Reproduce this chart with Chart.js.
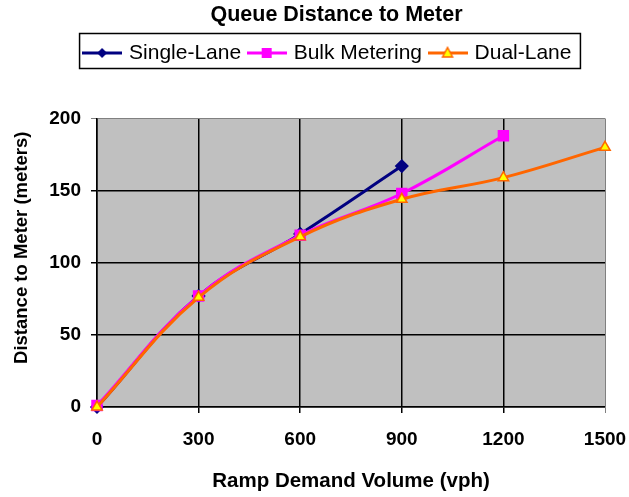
<!DOCTYPE html>
<html>
<head>
<meta charset="utf-8">
<script src="https://cdn.jsdelivr.net/npm/chart.js@4/dist/chart.umd.min.js"></script>
<style>
  html, body { margin: 0; padding: 0; background: #fff; }
  canvas { display: block; }
</style>
</head>
<body>
<canvas id="chart" width="629" height="497"></canvas>
<script>
const volumes = [0, 300, 600, 900, 1200, 1500];
const singleLane = [0, 77, 120, 167];
const bulkMetering = [1, 77, 119, 148, 188];
const dualLane = [0, 76, 118, 144, 159, 180];
const seriesNames = ["Single-Lane", "Bulk Metering", "Dual-Lane"];

const toPoints = (vals) => vals.map((v, i) => ({ x: volumes[i], y: v }));

const LEGEND_DX = 22;
const LEGEND_EXTRA = 45;
const TITLE_DX = 30;
const YTITLE_DY = -15;

// legend symbol: line with marker in the middle
function legendIcon(color, draw) {
  const c = document.createElement("canvas");
  c.width = 40;
  c.height = 14;
  const ctx = c.getContext("2d");
  ctx.strokeStyle = color;
  ctx.lineWidth = 3;
  ctx.beginPath();
  ctx.moveTo(0, 7);
  ctx.lineTo(40, 7);
  ctx.stroke();
  draw(ctx);
  return c;
}

const icons = [
  legendIcon("#000080", (ctx) => {
    ctx.fillStyle = "#000080";
    ctx.beginPath();
    ctx.moveTo(20, 2); ctx.lineTo(25, 7); ctx.lineTo(20, 12); ctx.lineTo(15, 7);
    ctx.closePath();
    ctx.fill();
  }),
  legendIcon("#ff00ff", (ctx) => {
    ctx.fillStyle = "#ff00ff";
    ctx.fillRect(15, 2, 10, 10);
  }),
  legendIcon("#ff6600", (ctx) => {
    ctx.fillStyle = "#ffff00";
    ctx.strokeStyle = "#ff6600";
    ctx.lineWidth = 1.5;
    ctx.beginPath();
    ctx.moveTo(20, 1.5); ctx.lineTo(25, 11); ctx.lineTo(15, 11);
    ctx.closePath();
    ctx.fill();
    ctx.stroke();
  }),
];

function shiftMethod(obj, name, dx, dy) {
  if (!obj || obj["_shifted_" + name]) return;
  const orig = obj[name];
  obj[name] = function (...args) {
    const ctx = this.ctx;
    ctx.save();
    ctx.translate(dx, dy);
    orig.apply(this, args);
    ctx.restore();
  };
  obj["_shifted_" + name] = true;
}

const boxTweaks = {
  id: "boxTweaks",
  beforeLayout(chart) {
    const legend = chart.legend;
    if (legend && !legend._tall) {
      const fit = legend.fit;
      legend.fit = function () {
        fit.call(this);
        this.height += LEGEND_EXTRA;
      };
      legend._tall = true;
    }
    shiftMethod(legend, "draw", LEGEND_DX, 0);
    shiftMethod(chart.titleBlock, "draw", TITLE_DX, 0);
    shiftMethod(chart.scales.y, "drawTitle", 0, YTITLE_DY);
  },
};

const plotBackground = {
  id: "plotBackground",
  beforeDraw(chart) {
    const { ctx, chartArea: a } = chart;
    ctx.save();
    ctx.fillStyle = "#c0c0c0";
    ctx.fillRect(a.left, a.top, a.right - a.left, a.bottom - a.top);
    ctx.restore();
  },
};

const legendFrame = {
  id: "legendFrame",
  afterDraw(chart) {
    const boxes = chart.legend.legendHitBoxes;
    if (!boxes || !boxes.length) return;
    const left = Math.min(...boxes.map((b) => b.left)) - 6 + LEGEND_DX;
    const right = Math.max(...boxes.map((b) => b.left + b.width)) + 9 + LEGEND_DX;
    const top = Math.min(...boxes.map((b) => b.top)) - 9;
    const bottom = Math.max(...boxes.map((b) => b.top + b.height)) + 5;
    const ctx = chart.ctx;
    ctx.save();
    ctx.strokeStyle = "#000";
    ctx.lineWidth = 1.5;
    ctx.strokeRect(left, top, right - left, bottom - top);
    ctx.restore();
  },
};

new Chart(document.getElementById("chart"), {
  type: "line",
  data: {
    datasets: [
      {
        label: seriesNames[0],
        data: toPoints(singleLane),
        borderColor: "#000080",
        backgroundColor: "#000080",
        borderWidth: 3,
        pointStyle: "rectRot",
        pointRadius: 5,
        tension: 0.4,
        clip: false,
        order: 3,
      },
      {
        label: seriesNames[1],
        data: toPoints(bulkMetering),
        borderColor: "#ff00ff",
        backgroundColor: "#ff00ff",
        borderWidth: 3,
        pointStyle: "rect",
        pointRadius: 6,
        tension: 0.4,
        clip: false,
        order: 2,
      },
      {
        label: seriesNames[2],
        data: toPoints(dualLane),
        borderColor: "#ff6600",
        backgroundColor: "#ffff00",
        borderWidth: 3,
        pointStyle: "triangle",
        pointRadius: 6,
        pointBorderWidth: 1.5,
        tension: 0.4,
        clip: false,
        order: 1,
      },
    ],
  },
  options: {
    responsive: false,
    animation: false,
    layout: { padding: { left: 8, right: 24, top: 2, bottom: 2 } },
    plugins: {
      tooltip: { enabled: false },
      title: {
        display: true,
        text: "Queue Distance to Meter",
        color: "#000",
        font: { family: "Liberation Sans", size: 21.5, weight: "bold" },
        padding: { top: 0, bottom: 5.7 },
      },
      legend: {
        display: true,
        labels: {
          color: "#000",
          font: { family: "Liberation Sans", size: 21 },
          usePointStyle: true,
          pointStyleWidth: 33,
          padding: 9,
          sort: (a, b) => a.datasetIndex - b.datasetIndex,
          generateLabels: (chart) =>
            chart.data.datasets.map((ds, i) => ({
              text: ds.label,
              pointStyle: icons[i],
              fontColor: "#000",
              datasetIndex: i,
              hidden: false,
              lineWidth: 0,
            })),
        },
      },
    },
    scales: {
      x: {
        type: "linear",
        min: 0,
        max: 1500,
        afterFit: (s) => {
          s.height = 88;
          s.paddingRight = 0;
          s.paddingLeft = 0;
        },
        ticks: {
          stepSize: 300,
          color: "#000",
          font: { family: "Liberation Sans", size: 19, weight: "bold" },
          padding: 15.5,
          maxRotation: 0,
          callback: (v) => String(v),
        },
        grid: {
          color: (c) => (c.tick && c.tick.value === 1500 ? "#808080" : "#000"),
          lineWidth: (c) => (c.tick && c.tick.value === 1500 ? 1 : 1.5),
          tickLength: 6,
        },
        border: { color: "#000", width: 1.5 },
        title: {
          display: true,
          text: "Ramp Demand Volume (vph)",
          color: "#000",
          font: { family: "Liberation Sans", size: 20.5, weight: "bold" },
          padding: { top: 1, bottom: 1 },
        },
      },
      y: {
        min: 0,
        max: 200,
        afterFit: (s) => { s.width = 89; },
        ticks: {
          stepSize: 50,
          color: "#000",
          font: { family: "Liberation Sans", size: 19, weight: "bold" },
          padding: 10,
        },
        grid: {
          color: (c) => (c.tick && c.tick.value === 200 ? "#808080" : "#000"),
          lineWidth: (c) => (c.tick && c.tick.value === 200 ? 1 : 1.5),
          tickLength: 6,
        },
        border: { color: "#000", width: 1.5 },
        title: {
          display: true,
          text: "Distance to Meter (meters)",
          color: "#000",
          font: { family: "Liberation Sans", size: 18.5, weight: "bold" },
          padding: { top: 3, bottom: 3 },
        },
      },
    },
  },
  plugins: [boxTweaks, plotBackground, legendFrame],
});
</script>
</body>
</html>
